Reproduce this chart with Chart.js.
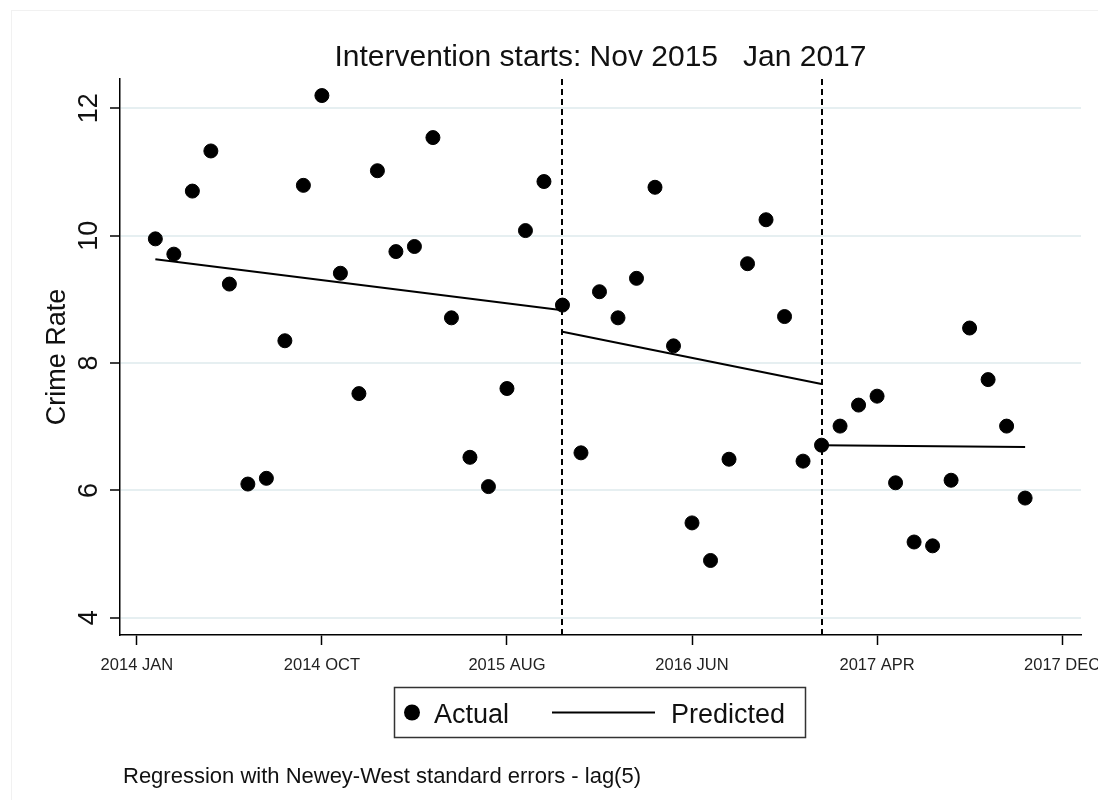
<!DOCTYPE html>
<html>
<head>
<meta charset="utf-8">
<script src="https://cdn.jsdelivr.net/npm/chart.js@4.4.1/dist/chart.umd.min.js"></script>
<style>
  html, body { margin: 0; padding: 0; background: #fff; }
  #wrap { position: relative; width: 1098px; height: 800px; }
</style>
</head>
<body>
<div id="wrap"><canvas id="c" width="1098" height="800"></canvas></div>
<script>
// Monthly crime rate, Jan 2014 (month 0) to Dec 2017 (month 47)
const monthIndex = [0, 1, 2, 3, 4, 5, 6, 7, 8, 9, 10, 11, 12, 13, 14, 15, 16, 17, 18, 19, 20, 21, 22, 23,
                    24, 25, 26, 27, 28, 29, 30, 31, 32, 33, 34, 35, 36, 37, 38, 39, 40, 41, 42, 43, 44, 45, 46, 47];
const crimeRate = [9.95, 9.71, 10.70, 11.33, 9.24, 6.10, 6.19, 8.35, 10.79, 12.20, 9.41, 7.52,
                   11.02, 9.75, 9.83, 11.54, 8.71, 6.52, 6.06, 7.60, 10.08, 10.85, 8.91, 6.59,
                   9.12, 8.71, 9.33, 10.76, 8.27, 5.49, 4.90, 6.49, 9.56, 10.25, 8.73, 6.46,
                   6.71, 7.01, 7.34, 7.48, 6.12, 5.19, 5.13, 6.16, 8.55, 7.74, 7.01, 5.88];

// Fitted segments of the interrupted time-series regression
const segmentStart = [0, 22, 36];
const segmentEnd = [22, 36, 47];
const predictedAtStart = [9.63, 8.49, 6.71];
const predictedAtEnd = [8.83, 7.67, 6.68];

// Intervention months (Nov 2015, Jan 2017)
const interventionMonths = [22, 36];

// Axis ticks
const xTickMonths = [-1, 9, 19, 29, 39, 49];
const xTickLabels = ['2014 JAN', '2014 OCT', '2015 AUG', '2016 JUN', '2017 APR', '2017 DEC'];
const yTickValues = [4, 6, 8, 10, 12];

const chartTitle = 'Intervention starts: Nov 2015   Jan 2017';
const footNote = 'Regression with Newey-West standard errors - lag(5)';

const FONT = "'Liberation Sans', Arial, Helvetica, sans-serif";
Chart.defaults.font.family = FONT;
Chart.defaults.color = '#111';

const actualPoints = monthIndex.map((m, i) => ({ x: m, y: crimeRate[i] }));

const predictedSets = segmentStart.map((s, i) => ({
  label: 'Predicted',
  data: [{ x: s, y: predictedAtStart[i] }, { x: segmentEnd[i], y: predictedAtEnd[i] }],
  showLine: true,
  borderColor: '#000',
  borderWidth: 2,
  pointRadius: 0,
  pointHoverRadius: 0,
  fill: false,
  order: 2
}));

// faint outer frame of the graph region
const outerFrame = {
  id: 'outerFrame',
  beforeDraw(chart) {
    const ctx = chart.ctx;
    ctx.save();
    ctx.fillStyle = '#fff';
    ctx.fillRect(0, 0, chart.width, chart.height);
    ctx.strokeStyle = '#f1f1f1';
    ctx.lineWidth = 1;
    ctx.strokeRect(11.5, 10.5, chart.width + 20, chart.height + 20);
    ctx.restore();
  }
};

// dashed vertical lines at each intervention
const interventionLines = {
  id: 'interventionLines',
  beforeDatasetsDraw(chart) {
    const { ctx, chartArea, scales } = chart;
    ctx.save();
    ctx.strokeStyle = '#000';
    ctx.lineWidth = 2;
    ctx.setLineDash([6, 4]);
    interventionMonths.forEach(m => {
      const x = Math.round(scales.x.getPixelForValue(m));
      ctx.beginPath();
      ctx.moveTo(x, chartArea.top);
      ctx.lineTo(x, chartArea.bottom);
      ctx.stroke();
    });
    ctx.restore();
  }
};

// title centred over the plot region, boxed legend and footnote
const titleLegendNote = {
  id: 'titleLegendNote',
  afterDraw(chart) {
    const ctx = chart.ctx;
    const area = chart.chartArea;
    const actual = chart.data.datasets[0];
    const pred = chart.data.datasets[1];
    ctx.save();

    ctx.fillStyle = '#111';
    ctx.font = '30px ' + FONT;
    ctx.textAlign = 'center';
    ctx.textBaseline = 'middle';
    ctx.fillText(chartTitle, (area.left + area.right) / 2, 58);

    ctx.strokeStyle = '#333';
    ctx.lineWidth = 1.5;
    ctx.strokeRect(394.5, 687.5, 411, 50);

    ctx.fillStyle = actual.backgroundColor;
    ctx.beginPath();
    ctx.arc(412, 712.5, 8, 0, Math.PI * 2);
    ctx.fill();

    ctx.strokeStyle = pred.borderColor;
    ctx.lineWidth = 2;
    ctx.beginPath();
    ctx.moveTo(552, 712.5);
    ctx.lineTo(655, 712.5);
    ctx.stroke();

    ctx.fillStyle = '#111';
    ctx.font = '27px ' + FONT;
    ctx.textBaseline = 'alphabetic';
    ctx.textAlign = 'left';
    ctx.fillText(actual.label, 434, 723);
    ctx.fillText(pred.label, 671, 723);

    ctx.font = '22px ' + FONT;
    ctx.fillText(footNote, 123, 783);
    ctx.restore();
  }
};

new Chart(document.getElementById('c'), {
  type: 'scatter',
  data: {
    datasets: [
      {
        label: 'Actual',
        data: actualPoints,
        backgroundColor: '#000',
        borderColor: '#000',
        borderWidth: 1,
        pointRadius: 7,
        pointHoverRadius: 7,
        showLine: false,
        order: 1
      },
      ...predictedSets
    ]
  },
  options: {
    responsive: false,
    animation: false,
    events: [],
    layout: { padding: { left: 0, right: 17, top: 79, bottom: 125 } },
    plugins: {
      legend: { display: false },
      tooltip: { enabled: false },
      title: { display: false }
    },
    scales: {
      x: {
        type: 'linear',
        min: -1.91,
        max: 50.02,
        afterBuildTicks(scale) { scale.ticks = xTickMonths.map(v => ({ value: v })); },
        afterFit(scale) { scale.height = 40; scale.paddingLeft = 0; scale.paddingRight = 0; },
        ticks: {
          autoSkip: false,
          maxRotation: 0,
          minRotation: 0,
          padding: 11,
          color: '#222',
          font: { size: 16.5, family: FONT },
          callback: (v, i) => xTickLabels[i]
        },
        grid: {
          display: true,
          drawOnChartArea: false,
          drawTicks: true,
          tickLength: 10,
          tickColor: '#000',
          tickWidth: 1.5
        },
        border: { display: true, color: '#000', width: 1.5 }
      },
      y: {
        type: 'linear',
        min: 3.73,
        max: 12.46,
        afterBuildTicks(scale) { scale.ticks = yTickValues.map(v => ({ value: v })); },
        afterFit(scale) { scale.width = 120; scale.paddingTop = 0; scale.paddingBottom = 0; },
        title: {
          display: true,
          text: 'Crime Rate',
          color: '#111',
          font: { size: 27, family: FONT, lineHeight: 1.2 },
          padding: { top: 41, bottom: 0 }
        },
        ticks: {
          autoSkip: false,
          minRotation: 90,
          maxRotation: 90,
          crossAlign: 'center',
          padding: 5,
          color: '#111',
          font: { size: 27, family: FONT },
          callback: v => String(v)
        },
        grid: {
          display: true,
          drawOnChartArea: true,
          color: '#e6eff1',
          lineWidth: 2,
          drawTicks: true,
          tickLength: 10,
          tickColor: '#000',
          tickWidth: 1.5
        },
        border: { display: true, color: '#000', width: 1.5 }
      }
    }
  },
  plugins: [outerFrame, interventionLines, titleLegendNote]
});
</script>
</body>
</html>
